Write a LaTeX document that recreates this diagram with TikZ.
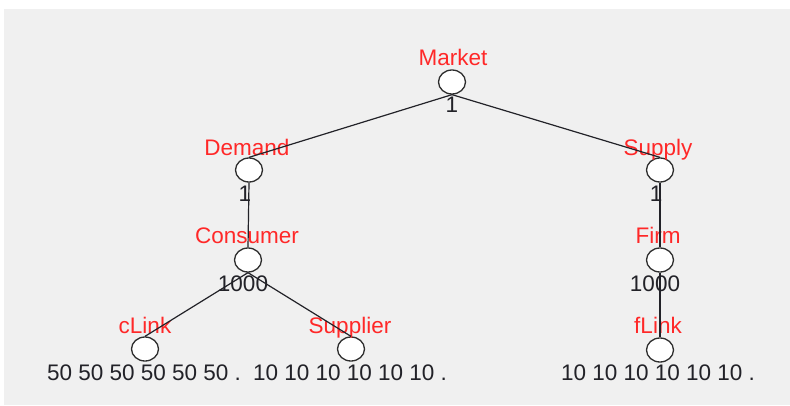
\documentclass[tikz,border=0pt]{standalone}
\usepackage{fontspec}
\setmainfont{Liberation Sans}
\usetikzlibrary{shapes.geometric}
\definecolor{panel}{RGB}{240,240,240}
\definecolor{tagred}{RGB}{255,40,40}
\definecolor{ink}{RGB}{34,34,40}
\definecolor{rim}{RGB}{45,45,45}
\tikzset{
  unit/.style={ellipse, draw=rim, fill=white, line width=1.3pt,
    minimum width=27pt, minimum height=24pt, inner sep=0pt},
  tag/.style={text=tagred, font=\fontsize{22.5}{22.5}\selectfont, anchor=base, inner sep=0pt},
  count/.style={text=ink, font=\fontsize{22.5}{22.5}\selectfont, anchor=base, inner sep=0pt},
  link/.style={draw=ink, line width=1.2pt}
}
\begin{document}
\begin{tikzpicture}[x=1pt,y=-1pt]
  % canvas and grey panel
  \useasboundingbox (0,0) rectangle (790,405);
  \fill[panel] (4,9) rectangle (790,405);

  % population units
  \node[unit] (market)   at (452,82)  {};
  \node[unit] (demand)   at (249,170) {};
  \node[unit] (supply)   at (660,170) {};
  \node[unit] (consumer) at (248,260) {};
  \node[unit] (firm)     at (660,260) {};
  \node[unit] (clink)    at (145,349) {};
  \node[unit] (supplier) at (351,349) {};
  \node[unit] (flink)    at (660,350) {};

  % unit names
  \node[tag] (market-t)   at (453,65)  {Market};
  \node[tag] (demand-t)   at (247,155) {Demand};
  \node[tag] (supply-t)   at (658,155) {Supply};
  \node[tag] (consumer-t) at (247,243) {Consumer};
  \node[tag] (firm-t)     at (658,243) {Firm};
  \node[tag] (clink-t)    at (145,333) {cLink};
  \node[tag] (supplier-t) at (350,333) {Supplier};
  \node[tag] (flink-t)    at (658,333) {fLink};

  % instance counts
  \node[count] (market-n)   at (452,112) {1};
  \node[count] (demand-n)   at (245,201) {1};
  \node[count] (supply-n)   at (656,201) {1};
  \node[count] (consumer-n) at (243,291) {1000};
  \node[count] (firm-n)     at (655,291) {1000};
  \node[count] (clink-n)    at (144,380) {50 50 50 50 50 50 .};
  \node[count] (supplier-n) at (350,380) {10 10 10 10 10 10 .};
  \node[count] (flink-n)    at (658,380) {10 10 10 10 10 10 .};

  % containment links
  \draw[link] (market.south) -- (demand.north);
  \draw[link] (market.south) -- (supply.north);
  \draw[link] (demand.south) -- (consumer.north);
  \draw[link] (supply.south) -- (firm.north);
  \draw[link] (consumer.south) -- (clink.north);
  \draw[link] (consumer.south) -- (supplier.north);
  \draw[link] (firm.south) -- (flink.north);
\end{tikzpicture}
\end{document}
